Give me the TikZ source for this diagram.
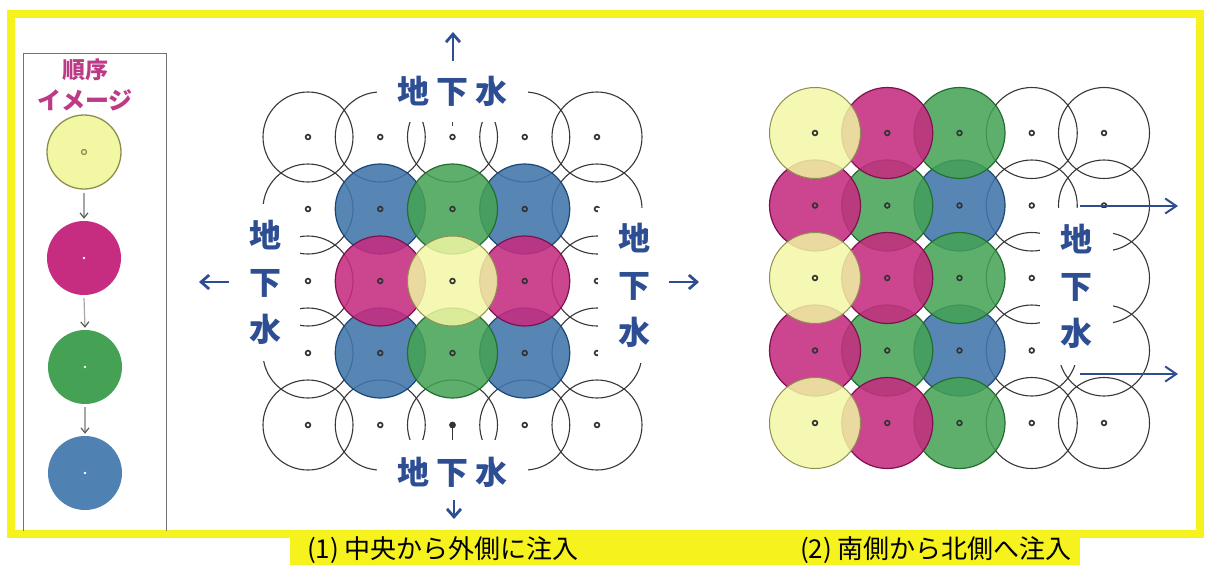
\documentclass[tikz,border=0pt]{standalone}
\usepackage{fontspec}
\newfontfamily\jp{Noto Sans CJK JP}
\usetikzlibrary{arrows.meta}
\definecolor{frameY}{HTML}{F5F21E}
\definecolor{txtblue}{HTML}{2D4E93}
\definecolor{cblue}{HTML}{4076AB}
\definecolor{cbluedk}{HTML}{1C4676}
\definecolor{cgreen}{HTML}{45A254}
\definecolor{cgreendk}{HTML}{226E30}
\definecolor{cmag}{HTML}{C62C80}
\definecolor{cmagdk}{HTML}{7C124E}
\definecolor{cyel}{HTML}{F2F7A4}
\definecolor{cyeldk}{HTML}{8E8E50}
\definecolor{legtxt}{HTML}{BC3A86}
\tikzset{
  ring/.style={draw=black!78, line width=1.1pt},
  blueC/.style={fill=cblue, fill opacity=0.88, draw=cbluedk, line width=1.2pt},
  greenC/.style={fill=cgreen, fill opacity=0.86, draw=cgreendk, line width=1.2pt},
  magC/.style={fill=cmag, fill opacity=0.88, draw=cmagdk, line width=1.2pt},
  yelC/.style={fill=cyel, fill opacity=0.84, draw=cyeldk, line width=1.0pt},
  wdot/.style={draw=black!80, line width=1.6pt},
  mask/.style={fill=white, inner sep=0pt, text=txtblue, font=\jp\bfseries\fontsize{32}{47}\selectfont, align=center},
  gwarrow/.style={txtblue, line width=2.8pt, -{Straight Barb[length=8pt,width=14pt]}},
  thinarrow/.style={txtblue, line width=2pt, -{Straight Barb[length=11pt,width=15pt]}},
  legarrow/.style={draw=black!35, line width=1.2pt, -{Straight Barb[length=5pt,width=8pt,color=black!65]}},
  legcirc/.style={circle, minimum size=74pt, inner sep=0pt},
  captxt/.style={font=\jp\fontsize{26}{30}\selectfont, text=black, inner sep=0pt},
}
\begin{document}
\begin{tikzpicture}[x=1pt,y=-1pt]
\useasboundingbox (0,0) rectangle (1209,565);
\fill[white] (0,0) rectangle (1209,565);

% ---------- caption band and frame ----------
\fill[frameY] (290,530) rectangle (1080,565);
\draw[frameY, line width=7.5pt] (11,14) rectangle (1200,534);

% ---------- legend ----------
\draw[black!55, line width=0.9pt] (23,531) -- (23,53) -- (166,53) -- (166,531);
\node[text=legtxt, font=\jp\bfseries\fontsize{23}{26}\selectfont] (lgA) at (85,70) {順序};
\node[text=legtxt, font=\jp\bfseries\fontsize{24}{26}\selectfont] (lgB) at (85,100) {イメージ};
\node[legcirc, fill=cyel, draw=cyeldk, line width=1.3pt] (L1) at (84,152) {};
\node[legcirc, fill=cmag] (L2) at (84,258) {};
\node[legcirc, fill=cgreen] (L3) at (85,367) {};
\node[legcirc, fill=cblue!92!white] (L4) at (85,473) {};
\draw[cyeldk, line width=1.3pt] (L1.center) circle (2.5);
\fill[white] (L2.center) circle (1.3);
\fill[white] (L3.center) circle (1.3);
\fill[white] (L4.center) circle (1.3);
\draw[legarrow] ([yshift=-3pt]L1.south) -- ([yshift=2pt]L2.north);
\draw[legarrow] ([yshift=-3pt]L2.south) -- ([yshift=2pt]L3.north);
\draw[legarrow] ([yshift=-3pt]L3.south) -- ([yshift=2pt]L4.north);

% ---------- left grid (1) ----------
\def\Lx#1{308+72.25*#1}
\def\Ly#1{137+72*#1}
% outer ring circles
\foreach \i in {0,...,4} {
  \draw[ring] ({\Lx{\i}},{\Ly{0}}) circle (45);
  \draw[ring] ({\Lx{\i}},{\Ly{4}}) circle (45);
}
\foreach \j in {1,2,3} {
  \draw[ring] ({\Lx{0}},{\Ly{\j}}) circle (45);
  \draw[ring] ({\Lx{4}},{\Ly{\j}}) circle (45);
}
% coloured circles
\foreach \i/\j in {1/1,3/1,1/3,3/3} \path[blueC] ({\Lx{\i}},{\Ly{\j}}) circle (45);
\foreach \i/\j in {2/1,2/3} \path[greenC] ({\Lx{\i}},{\Ly{\j}}) circle (45);
\foreach \i/\j in {1/2,3/2} \path[magC] ({\Lx{\i}},{\Ly{\j}}) circle (45);
\path[yelC] ({\Lx{2}},{\Ly{2}}) circle (45);
% centre dots
\foreach \i in {0,...,4} \foreach \j in {0,...,4}
  \draw[wdot] ({\Lx{\i}},{\Ly{\j}}) circle (2.4);
\draw[black!75, line width=1.5pt] ({\Lx{2}},121) -- ({\Lx{2}},126);
\fill[black!80] ({\Lx{2}},{\Ly{4}}) circle (3.2);
\draw[black!80, line width=1.5pt] ({\Lx{2}},{\Ly{4}}) -- ({\Lx{2}},440);
% labels with white masks
\node[mask, minimum width=151pt, minimum height=62pt] (tN) at (452.5,91) {地\hspace{7pt}下\hspace{7pt}水};
\node[mask, minimum width=151pt, minimum height=64pt] (tS) at (452.5,472) {地\hspace{7pt}下\hspace{7pt}水};
\node[mask, minimum width=70pt, minimum height=157pt] (tW) at (265,282) {地\\下\\水};
\node[mask, minimum width=72pt, minimum height=155pt] (tE) at (634,285) {地\\下\\水};
% arrows
\coordinate (aN0) at (453,61); \coordinate (aN1) at (453,32);
\coordinate (aS0) at (454,500); \coordinate (aS1) at (454,519);
\coordinate (aW0) at (229,282); \coordinate (aW1) at (199,282);
\coordinate (aE0) at (669,282); \coordinate (aE1) at (699,282);
\draw[gwarrow] (aN0) -- (aN1);
\draw[gwarrow] (aS0) -- (aS1);
\draw[gwarrow] (aW0) -- (aW1);
\draw[gwarrow] (aE0) -- (aE1);

% ---------- right grid (2) ----------
\def\Rx#1{815+72.25*#1}
\def\Ry#1{133+72.5*#1}
\foreach \i in {3,4} \foreach \j in {0,...,4}
  \draw[ring] ({\Rx{\i}},{\Ry{\j}}) circle (45.5);
\foreach \j in {1,3} \path[blueC] ({\Rx{2}},{\Ry{\j}}) circle (45.5);
\foreach \i/\j in {2/0,1/1,2/2,1/3,2/4} \path[greenC] ({\Rx{\i}},{\Ry{\j}}) circle (45.5);
\foreach \i/\j in {1/0,0/1,1/2,0/3,1/4} \path[magC] ({\Rx{\i}},{\Ry{\j}}) circle (45.5);
\foreach \j in {0,2,4} \path[yelC] ({\Rx{0}},{\Ry{\j}}) circle (45.5);
\foreach \i in {0,...,4} \foreach \j in {0,...,4}
  \draw[wdot] ({\Rx{\i}},{\Ry{\j}}) circle (2.4);
\node[mask, minimum width=73pt, minimum height=157pt] (tR) at (1076.5,286.5) {地\\下\\水};
\coordinate (r10) at (1080,206); \coordinate (r11) at (1178,206);
\coordinate (r20) at (1080,374); \coordinate (r21) at (1178,374);
\draw[thinarrow] (r10) -- (r11);
\draw[thinarrow] (r20) -- (r21);

% ---------- captions ----------
\node[captxt] (cap1) at (443,550) {(1) 中央から外側に注入};
\node[captxt] (cap2) at (936,550) {(2) 南側から北側へ注入};
\end{tikzpicture}
\end{document}
